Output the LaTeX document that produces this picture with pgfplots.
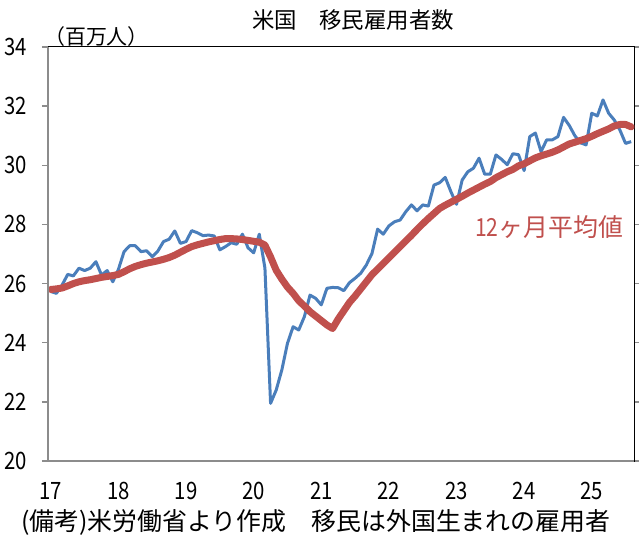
\documentclass[border=0pt]{standalone}
\usepackage{fontspec}
\setmainfont{Noto Sans CJK JP}
\newfontfamily\numfont[FakeStretch=0.85]{Noto Sans CJK JP}
\usepackage{pgfplots}
\usepackage{pgfplotstable}
\pgfplotsset{compat=1.18}
\definecolor{eblue}{HTML}{4A7EBB}
\definecolor{ered}{HTML}{C0504D}
\definecolor{axgray}{HTML}{8C8C8C}

% idx 0 = Jan 2017 ... 103 = Aug 2025 (million persons)
\pgfplotstableread{
idx emp avg
0 25.73 25.80
1 25.67 25.82
2 25.95 25.85
3 26.31 25.92
4 26.26 26.00
5 26.52 26.06
6 26.44 26.10
7 26.52 26.13
8 26.74 26.17
9 26.29 26.21
10 26.44 26.24
11 26.06 26.27
12 26.48 26.31
13 27.08 26.40
14 27.28 26.50
15 27.28 26.58
16 27.08 26.64
17 27.11 26.69
18 26.91 26.73
19 27.10 26.77
20 27.42 26.82
21 27.50 26.88
22 27.78 26.96
23 27.36 27.06
24 27.42 27.16
25 27.79 27.25
26 27.72 27.31
27 27.62 27.36
28 27.64 27.41
29 27.61 27.45
30 27.14 27.49
31 27.25 27.52
32 27.38 27.52
33 27.33 27.51
34 27.67 27.49
35 27.21 27.46
36 27.04 27.43
37 27.67 27.40
38 26.52 27.30
39 21.95 26.90
40 22.40 26.45
41 23.08 26.15
42 23.98 25.88
43 24.54 25.67
44 24.43 25.42
45 24.88 25.24
46 25.61 25.05
47 25.50 24.90
48 25.28 24.75
49 25.84 24.60
50 25.87 24.48
51 25.86 24.80
52 25.76 25.08
53 26.03 25.36
54 26.18 25.58
55 26.35 25.82
56 26.63 26.06
57 27.02 26.30
58 27.84 26.49
59 27.67 26.68
60 27.95 26.87
61 28.09 27.06
62 28.15 27.25
63 28.43 27.44
64 28.66 27.63
65 28.46 27.83
66 28.66 28.02
67 28.62 28.20
68 29.33 28.37
69 29.41 28.54
70 29.59 28.65
71 29.11 28.75
72 28.68 28.85
73 29.50 28.95
74 29.78 29.06
75 29.90 29.16
76 30.24 29.26
77 29.70 29.36
78 29.70 29.45
79 30.35 29.58
80 30.20 29.68
81 30.02 29.78
82 30.39 29.86
83 30.36 29.98
84 29.82 30.05
85 30.97 30.15
86 31.09 30.25
87 30.46 30.32
88 30.86 30.38
89 30.86 30.44
90 30.97 30.52
91 31.62 30.62
92 31.35 30.72
93 31.00 30.78
94 30.76 30.84
95 30.69 30.90
96 31.76 30.98
97 31.67 31.07
98 32.21 31.15
99 31.76 31.23
100 31.53 31.33
101 31.19 31.38
102 30.74 31.38
103 30.80 31.30
}\datatable

\begin{document}
\begin{tikzpicture}
\useasboundingbox (0bp,0bp) rectangle (639bp,541bp);
\begin{axis}[
  at={(48bp,80bp)}, anchor=south west,
  scale only axis, width=586bp, height=414bp,
  xmin=-0.5, xmax=103.5, ymin=20, ymax=34,
  xtick={0,12,...,96},
  xticklabels={17,18,19,20,21,22,23,24,25},
  ytick={20,22,...,34},
  yticklabels={20,22,24,26,28,30,32,34},
  /pgf/number format/assume math mode=true,
  tick align=outside, major tick length=6bp,
  x tick style={draw=none},
  y tick style={draw=axgray, line width=1.5bp},
  axis line style={black, line width=1bp},
  ticklabel style={font=\numfont\fontsize{24}{24}\selectfont, inner sep=0pt},
  xticklabel style={anchor=north, yshift=-15bp},
  yticklabel style={anchor=east, xshift=-15bp},
  clip=false,
]
\addplot[eblue, line width=3bp, line join=round] table[x=idx, y=emp] {\datatable};
\addplot[ered, line width=7bp, line join=round, line cap=round] table[x=idx, y=avg] {\datatable};
\draw[axgray, line width=2bp] (rel axis cs:0,1) -- (rel axis cs:0,0) -- (rel axis cs:1,0);
\end{axis}
\node[inner sep=0pt] at (353bp,521bp) {\fontsize{22.5}{22.5}\selectfont 米国　移民雇用者数};
\node[inner sep=0pt, anchor=west] at (44bp,504bp) {\fontsize{21}{21}\selectfont （百万人）};
\node[inner sep=0pt, anchor=west, text=ered] at (475bp,314bp) {\fontsize{25}{25}\selectfont{\numfont 12}ヶ月平均値};
\node[inner sep=0pt, anchor=west] at (21bp,19bp) {\fontsize{25}{25}\selectfont (備考)米労働省より作成　移民は外国生まれの雇用者};
\end{tikzpicture}
\end{document}
